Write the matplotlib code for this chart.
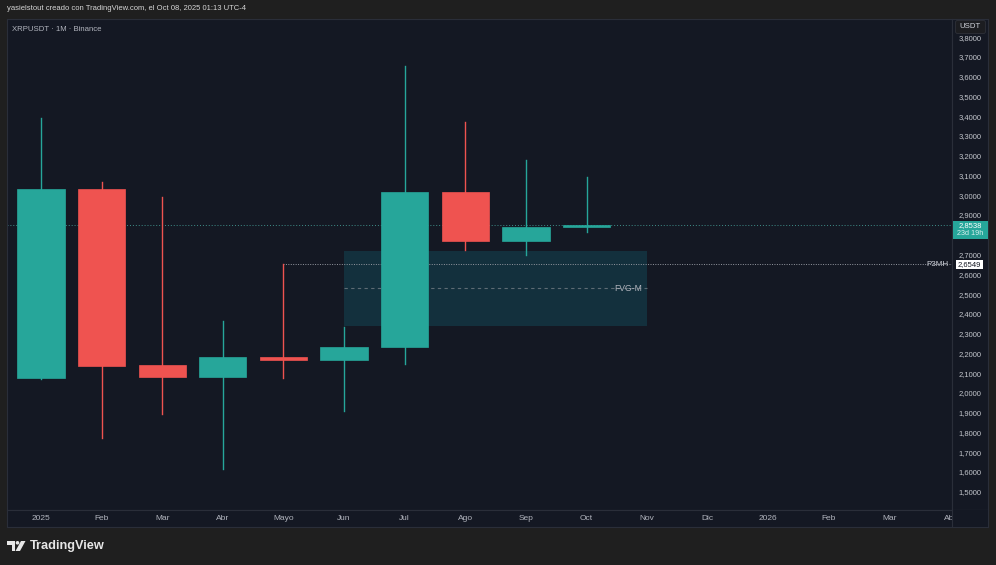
import matplotlib
matplotlib.use("Agg")
import matplotlib.pyplot as plt
from matplotlib.patches import Rectangle, FancyBboxPatch, Polygon, Circle

plt.rcParams["font.family"] = ["Liberation Sans", "DejaVu Sans"]

# monthly candles, XRPUSDT 1M (Jan..Oct 2025)
months = list(range(10))
opens = [2.081, 3.037, 2.146, 2.086, 2.187, 2.172, 2.237, 3.021, 2.774, 2.844]
highs = [3.396, 3.070, 2.997, 2.369, 2.6549, 2.339, 3.659, 3.375, 3.183, 3.097]
lows = [2.075, 1.777, 1.900, 1.620, 2.080, 1.914, 2.151, 2.728, 2.703, 2.819]
closes = [3.037, 2.141, 2.086, 2.187, 2.172, 2.237, 3.021, 2.774, 2.844, 2.8538]

time_labels = ["2025", "Feb", "Mar", "Abr", "Mayo", "Jun", "Jul", "Ago",
               "Sep", "Oct", "Nov", "Dic", "2026", "Feb", "Mar", "Abr"]
price_ticks = [1.5, 1.6, 1.7, 1.8, 1.9, 2.0, 2.1, 2.2, 2.3, 2.4, 2.5, 2.6,
               2.7, 2.9, 3.0, 3.1, 3.2, 3.3, 3.4, 3.5, 3.6, 3.7, 3.8]

last_price = 2.8538
countdown = "23d 19h"
p3mh = 2.6549
fvg_top, fvg_bottom = 2.723, 2.344
fvg_start, fvg_end = 5, 10

UP = "#26a69a"
DOWN = "#ef5350"
BG = "#1f1f1f"
PANEL = "#141823"
LINE = "#2a2e39"
TXT = "#b2b5be"

W, H = 996, 565


def rect(x0, y0, x1, y1):
    # pixel box -> figure fraction
    return [x0 / W, 1 - y1 / H, (x1 - x0) / W, (y1 - y0) / H]


def fmt(p):
    return f"{p:.4f}".replace(".", ",")


fig = plt.figure(figsize=(W / 100, H / 100), dpi=100, facecolor=BG)

ylim = (1.413, 3.8965)
xlim = (-0.561, 15.03)

ax = fig.add_axes(rect(7, 19, 952, 510), facecolor=PANEL)
ax.set_xlim(*xlim)
ax.set_ylim(*ylim)
ax.set_xticks([])
ax.set_yticks([])
for s in ax.spines.values():
    s.set_color(LINE)
    s.set_linewidth(0.8)

# FVG zone
ax.add_patch(Rectangle((fvg_start, fvg_bottom), fvg_end - fvg_start, fvg_top - fvg_bottom,
                       facecolor="#13303d", edgecolor="none", zorder=1))
mid = (fvg_top + fvg_bottom) / 2
ax.plot([fvg_start, fvg_end], [mid, mid], color="#5d6b74", lw=0.8,
        ls=(0, (3, 3)), zorder=1.5)
ax.text(fvg_end - 0.08, mid, "FVG-M", color=TXT, fontsize=6.2,
        ha="right", va="center", zorder=4)

# candles
body_w = 0.78
for i, o, h, l, c in zip(months, opens, highs, lows, closes):
    col = UP if c >= o else DOWN
    ax.plot([i, i], [l, h], color=col, lw=1.0, zorder=2)
    ax.add_patch(Rectangle((i - body_w / 2, min(o, c)), body_w, max(abs(c - o), 0.006),
                           facecolor=col, edgecolor=col, lw=0.5, zorder=3))

# last price + P3MH lines
ax.plot(xlim, [last_price, last_price], color="#3f8f8a", lw=0.7, ls=(0, (1, 2)), zorder=1.8)
ax.plot([4, xlim[1]], [p3mh, p3mh], color="#9598a1", lw=0.7, ls=(0, (1, 1.5)), zorder=1.8)
ax.text(xlim[1] - 0.06, p3mh, "P3MH", color="#d1d4dc", fontsize=5.8,
        ha="right", va="center", zorder=4)

ax.text(0.005, 0.986, "XRPUSDT · 1M · Binance", transform=ax.transAxes, color=TXT,
        fontsize=5.6, ha="left", va="top")

# price axis
pax = fig.add_axes(rect(952, 19, 988, 510), facecolor=PANEL)
pax.set_xlim(0, 1)
pax.set_ylim(*ylim)
pax.set_xticks([])
pax.set_yticks([])
for s in pax.spines.values():
    s.set_color(LINE)
    s.set_linewidth(0.8)
for p in price_ticks:
    pax.text(0.5, p, fmt(p), color="#c3c6cc", fontsize=5.5,
             ha="center", va="center", clip_on=True)

pax.add_patch(Rectangle((0.03, 2.784), 0.97, 0.091, facecolor=UP, edgecolor="none", zorder=5))
pax.text(0.5, 2.852, fmt(last_price), color="white", fontsize=5.5,
         ha="center", va="center", zorder=6)
pax.text(0.5, 2.812, countdown, color="#d8f0ee", fontsize=5.2,
         ha="center", va="center", zorder=6)
pax.add_patch(Rectangle((0.12, 2.632), 0.74, 0.046, facecolor="white", edgecolor="none", zorder=5))
pax.text(0.49, p3mh, fmt(p3mh), color="#131722", fontsize=5.5,
         ha="center", va="center", zorder=6)

# time axis
tax = fig.add_axes(rect(7, 510, 988, 527), facecolor=PANEL)
txmax = xlim[0] + (xlim[1] - xlim[0]) * 981 / 945
tax.set_xlim(xlim[0], txmax)
tax.set_ylim(0, 1)
tax.set_xticks([])
tax.set_yticks([])
for s in tax.spines.values():
    s.set_color(LINE)
    s.set_linewidth(0.8)
for i, lab in enumerate(time_labels):
    tax.text(i, 0.5, lab, color=TXT, fontsize=6, ha="center", va="center", zorder=2)
# the price-axis column hides the tail of the last month label
tax.add_patch(Rectangle((xlim[1], 0), txmax - xlim[1], 1, facecolor=PANEL,
                        edgecolor="none", zorder=4))
tax.plot([xlim[1], xlim[1]], [0, 1], color=LINE, lw=0.8, zorder=5)

# overlay for header, USDT badge and logo
ov = fig.add_axes([0, 0, 1, 1], facecolor="none")
ov.set_xlim(0, W)
ov.set_ylim(H, 0)
ov.axis("off")
ov.text(7, 9, "yasielstout creado con TradingView.com, el Oct 08, 2025 01:13 UTC-4",
        color="#d6d6d6", fontsize=5.5, ha="left", va="center")

ov.add_patch(FancyBboxPatch((955.5, 20.5), 30, 13, boxstyle="round,pad=0,rounding_size=2",
                            facecolor="#1c1d21", edgecolor="#2e3038", lw=0.6))
ov.text(970.5, 27, "USDT", color="#d1d4dc", fontsize=5.6, ha="center", va="center")

logo = "#e6e6e6"
ov.add_patch(Polygon([(7, 541), (15, 541), (15, 551), (11.5, 551), (11.5, 544.5), (7, 544.5)],
                     closed=True, facecolor=logo, edgecolor="none"))
ov.add_patch(Circle((17.5, 542.8), 1.8, facecolor=logo, edgecolor="none"))
ov.add_patch(Polygon([(21, 541), (25.5, 541), (20, 551), (15.5, 551)],
                     closed=True, facecolor=logo, edgecolor="none"))
ov.text(29.5, 546.5, "TradingView", color=logo, fontsize=9.2, fontweight="bold",
        ha="left", va="center")

fig.savefig("out.png", dpi=100, facecolor=BG)
